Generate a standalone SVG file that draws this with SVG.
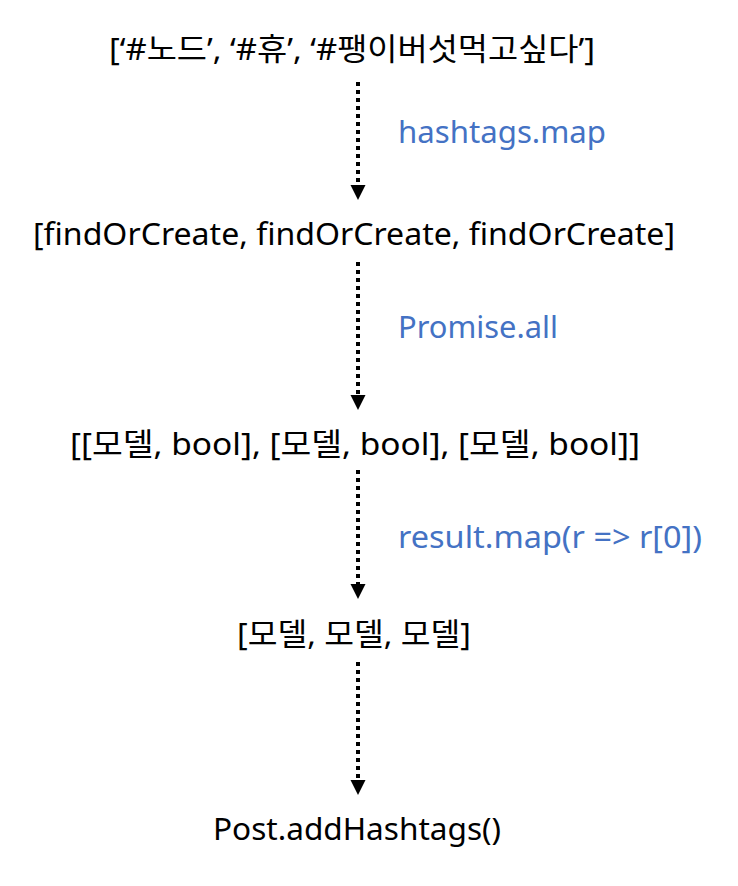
<svg xmlns="http://www.w3.org/2000/svg" width="738" height="886" viewBox="0 0 738 886">
<style>
.t{font-family:"Noto Sans","Noto Sans CJK KR",sans-serif;font-size:31px;fill:#000;text-anchor:middle}
.l{font-family:"Noto Sans","Noto Sans CJK KR",sans-serif;font-size:31px;fill:#4472C4}
.c{stroke:#000;stroke-width:4;stroke-dasharray:4 4;fill:none}
</style>
<rect width="738" height="886" fill="#fff"/>
<g id="connectors">
<line class="c" x1="358" y1="82" x2="358" y2="185"/><path d="M350.5,185 L365.5,185 L358,200 Z"/>
<line class="c" x1="358" y1="262" x2="358" y2="395"/><path d="M350.5,395 L365.5,395 L358,410 Z"/>
<line class="c" x1="358" y1="470" x2="358" y2="584"/><path d="M350.5,584 L365.5,584 L358,599 Z"/>
<line class="c" x1="358" y1="662" x2="358" y2="780"/><path d="M350.5,780 L365.5,780 L358,795 Z"/>
</g>
<g id="n1"><text class="t" x="352" y="60" textLength="486" lengthAdjust="spacingAndGlyphs">[‘#노드’, ‘#휴’, ‘#팽이버섯먹고싶다’]</text></g>
<g id="n2"><text class="t" x="354" y="245" textLength="642" lengthAdjust="spacingAndGlyphs">[findOrCreate, findOrCreate, findOrCreate]</text></g>
<g id="n3"><text class="t" x="355" y="455" textLength="570" lengthAdjust="spacingAndGlyphs">[[모델, bool], [모델, bool], [모델, bool]]</text></g>
<g id="n4"><text class="t" x="354" y="645" textLength="234" lengthAdjust="spacingAndGlyphs">[모델, 모델, 모델]</text></g>
<g id="n5"><text class="t" x="357" y="840" textLength="288" lengthAdjust="spacingAndGlyphs">Post.addHashtags()</text></g>
<g id="labels">
<text class="l" x="398" y="143" textLength="208" lengthAdjust="spacingAndGlyphs">hashtags.map</text>
<text class="l" x="398" y="338" textLength="160" lengthAdjust="spacingAndGlyphs">Promise.all</text>
<text class="l" x="398" y="548" textLength="304" lengthAdjust="spacingAndGlyphs">result.map(r =&gt; r[0])</text>
</g>
</svg>
